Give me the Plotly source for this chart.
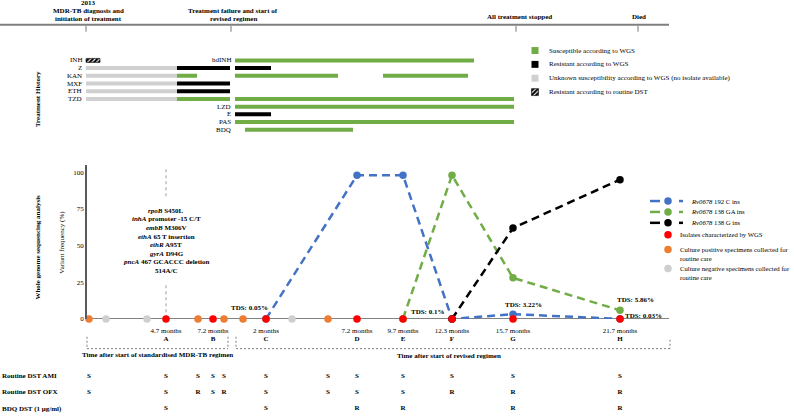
import plotly.graph_objects as go

W, H = 794, 416
FONT = "Liberation Serif"
FS = 7.0

# ---------------- data ----------------
# schematic timeline positions (same horizontal scale for all panels)
milestone_pos = [86, 231, 516, 638]
milestone_lines = [["2013", "MDR-TB diagnosis and", "initiation of treatment"],
                   ["Treatment failure and start of", "revised regimen"],
                   ["All treatment stopped"],
                   ["Died"]]

# treatment history bars: row index, start, end, status
row_left_labels = ["INH", "Z", "KAN", "MXF", "ETH", "TZD"]
row_right_labels = {0: "hdINH", 6: "LZD", 7: "E", 8: "PAS", 9: "BDQ"}
bar_row = [0, 0, 1, 1, 1, 2, 2, 2, 2, 3, 3, 4, 4, 5, 5, 5, 6, 7, 8, 9]
bar_start = [86, 235, 86, 177, 235, 86, 177, 235, 383, 86, 177, 86, 177, 86, 177, 235, 235, 235, 235, 245]
bar_end = [100, 474, 177, 230, 271, 177, 197, 338, 468, 177, 230, 177, 230, 177, 230, 514, 514, 271, 514, 353]
bar_status = ["H", "S", "U", "R", "R", "U", "S", "S", "S", "U", "R", "U", "R", "U", "S", "S", "S", "R", "S", "S"]

legend1_status = ["S", "R", "U", "H"]
legend1_text = ["Susceptible according to WGS", "Resistant according to WGS",
                "Unknown susceptibility according to WGS (no isolate available)",
                "Resistant according to routine DST"]

# specimens
sample_pos = [89, 106, 147, 166, 198, 213, 224, 243, 266, 292, 328, 357, 403, 452, 513, 620]
sample_type = ["pos", "neg", "neg", "wgs", "pos", "wgs", "pos", "pos", "wgs", "neg", "pos",
               "wgs", "wgs", "wgs", "wgs", "wgs"]

isolate_letter = ["A", "B", "C", "D", "E", "F", "G", "H"]
isolate_pos = [166, 213, 266, 357, 403, 452, 513, 620]
isolate_month = ["4.7 months", "7.2 months", "2 months", "7.2 months", "9.7 months",
                 "12.3 months", "15.7 months", "21.7 months"]

# variant frequencies (%) at isolates
blue_iso = ["C", "D", "E", "F", "G", "H"]
blue_val = [0.05, 98, 98, 0, 3.22, 0.03]
green_iso = ["E", "F", "G", "H"]
green_val = [0.1, 98, 28, 5.86]
black_iso = ["F", "G", "H"]
black_val = [0, 62, 95]

series_names = ["<i>Rv0678</i> 192 C ins", "<i>Rv0678</i> 138 GA ins", "<i>Rv0678</i> 138 G ins"]
series_colors = ["#4472C4", "#70AD47", "#000000"]

tds_text = ["TDS: 0.05%", "TDS: 0.1%", "TDS: 3.22%", "TDS: 5.86%", "TDS: 0.03%"]

mutations = ["<i>rpoB</i> S450L", "<i>inhA</i> promoter -15 C/T", "<i>embB</i> M306V",
             "<i>ethA</i> 65 T insertion", "<i>ethR</i> A95T", "<i>gyrA</i> D94G",
             "<i>pncA</i> 467 GCACCC deletion", "514A/C"]

dst_pos = [89, 166, 198, 213, 224, 266, 328, 357, 403, 452, 513, 620]
dst_rows = ["Routine DST AMI", "Routine DST OFX", "BDQ DST (1 μg/ml)"]
dst_ami = ["S", "S", "S", "S", "S", "S", "S", "S", "S", "S", "S", "S"]
dst_ofx = ["S", "S", "R", "S", "R", "S", "S", "S", "S", "R", "R", "R"]
dst_bdq = ["", "S", "", "", "", "S", "", "R", "R", "", "R", "R"]

# ---------------- layout helpers ----------------
def py(px):
    return 1 - px / H

ROW0, ROWH = 61, 7.78
Y0PX, PXPER = 322, 1.48   # variant-frequency axis: 0 at 322px, 1.48px per %
MS = 7.5

status_color = {"S": "#70AD47", "R": "#000000", "U": "#D0D0D0", "H": "#000000"}
type_color = {"pos": "#ED7D31", "neg": "#CFCFCF", "wgs": "#FF0000"}
hatch_marker = dict(color="black", line=dict(width=0.6, color="black"),
                    pattern=dict(shape="/", fgcolor="white", bgcolor="black", size=3.2, solidity=0.35,
                                 fillmode="replace"))

fig = go.Figure()

# treatment bars
for st in ["U", "S", "R", "H"]:
    idx = [i for i, s in enumerate(bar_status) if s == st]
    mk = hatch_marker if st == "H" else dict(color=status_color[st], line=dict(width=0))
    fig.add_trace(go.Bar(orientation="h", y=[bar_row[i] for i in idx],
                         base=[bar_start[i] for i in idx],
                         x=[bar_end[i] - bar_start[i] for i in idx],
                         width=0.52, marker=mk, xaxis="x", yaxis="y2",
                         hoverinfo="skip", showlegend=False))

# legend 1 swatches
for k, st in enumerate(legend1_status):
    mk = hatch_marker if st == "H" else dict(color=status_color[st], line=dict(width=0))
    fig.add_trace(go.Bar(orientation="h", y=[51 + 14 * k], base=[531.5], x=[7], width=7,
                         marker=mk, xaxis="x", yaxis="y4", hoverinfo="skip", showlegend=False))

# variant frequency lines
iso_x = dict(zip(isolate_letter, isolate_pos))
for iso, val, col in zip([blue_iso, green_iso, black_iso], [blue_val, green_val, black_val], series_colors):
    fig.add_trace(go.Scatter(x=[iso_x[i] for i in iso], y=val, mode="lines+markers",
                             line=dict(color=col, width=2.5, dash="8px,5px"),
                             marker=dict(color=col, size=MS), cliponaxis=False,
                             xaxis="x", yaxis="y", hoverinfo="skip", showlegend=False))

# specimens on the axis
for t in ["neg", "pos", "wgs"]:
    xs = [p for p, s in zip(sample_pos, sample_type) if s == t]
    fig.add_trace(go.Scatter(x=xs, y=[0] * len(xs), mode="markers",
                             marker=dict(color=type_color[t], size=MS), cliponaxis=False,
                             xaxis="x", yaxis="y", hoverinfo="skip", showlegend=False))

# legend 2 samples
leg2_y = [203, 214, 225]
for k, col in enumerate(series_colors):
    yy = leg2_y[k]
    fig.add_trace(go.Scatter(x=[650, 660, None, 679, 683], y=[yy, yy, None, yy, yy], mode="lines",
                             line=dict(color=col, width=2.5), cliponaxis=False,
                             xaxis="x", yaxis="y4", hoverinfo="skip", showlegend=False))
    fig.add_trace(go.Scatter(x=[668], y=[yy], mode="markers",
                             marker=dict(color=col, size=MS), cliponaxis=False,
                             xaxis="x", yaxis="y4", hoverinfo="skip", showlegend=False))
for t, yy in zip(["wgs", "pos", "neg"], [237, 252, 271]):
    fig.add_trace(go.Scatter(x=[668], y=[yy], mode="markers",
                             marker=dict(color=type_color[t], size=MS), cliponaxis=False,
                             xaxis="x", yaxis="y4", hoverinfo="skip", showlegend=False))

# month / letter labels
tf = dict(family=FONT, size=FS, color="black")
fig.add_trace(go.Scatter(x=isolate_pos, y=[334.5] * len(isolate_pos), mode="text", text=isolate_month,
                         textfont=tf, cliponaxis=False, xaxis="x", yaxis="y4", hoverinfo="skip", showlegend=False))
fig.add_trace(go.Scatter(x=isolate_pos, y=[342.5] * len(isolate_pos), mode="text",
                         text=["<b>%s</b>" % l for l in isolate_letter],
                         textfont=tf, cliponaxis=False, xaxis="x", yaxis="y4", hoverinfo="skip", showlegend=False))
# DST rows
dst_y = [379.5, 396, 412.5]
for vals, yy in zip([dst_ami, dst_ofx, dst_bdq], dst_y):
    fig.add_trace(go.Scatter(x=dst_pos, y=[yy] * len(dst_pos), mode="text",
                             text=["<b>%s</b>" % v if v else "" for v in vals],
                             textfont=tf, cliponaxis=False, xaxis="x", yaxis="y4",
                             hoverinfo="skip", showlegend=False))

# ---------------- annotations ----------------
ann = []
def A(text, x, ypx, xanchor="center", bold=False, size=FS, angle=0, xref="x"):
    ann.append(dict(text=("<b>%s</b>" % text) if bold else text, x=x, y=py(ypx), xref=xref, yref="paper",
                    xanchor=xanchor, yanchor="middle", showarrow=False, textangle=angle,
                    font=dict(family=FONT, size=size, color="black")))

# milestone headers
A(milestone_lines[0][0], 88, 3.5, bold=True)
A(milestone_lines[0][1], 88, 11.5, bold=True)
A(milestone_lines[0][2], 88, 19.5, bold=True)
A(milestone_lines[1][0], 233, 11.5, bold=True)
A(milestone_lines[1][1], 233, 19.5, bold=True)
A(milestone_lines[2][0], 519, 17.5, bold=True)
A(milestone_lines[3][0], 639, 17.5, bold=True)

# treatment labels
for r, lab in enumerate(row_left_labels):
    A(lab, 83.5, ROW0 + ROWH * r, xanchor="right")
for r, lab in row_right_labels.items():
    A(lab, 232.5, ROW0 + ROWH * r, xanchor="right")
for k, t in enumerate(legend1_text):
    A(t, 547, 51 + 14 * k, xanchor="left")

A("Treatment History", 38, 100, bold=True, angle=-90)
A("Whole genome sequencing analysis", 38, 250, bold=True, angle=-90)
A("Variant frequency (%)", 62, 245, angle=-90)

# mutation list
for k, m in enumerate(mutations):
    A(m, 166, 213 + 8.6 * k, bold=True)

# TDS labels
A(tds_text[0], 249, 311, bold=True)
A(tds_text[1], 427, 315, bold=True)
A(tds_text[2], 523, 308, bold=True)
A(tds_text[3], 635, 303, bold=True)
A(tds_text[4], 643, 319, bold=True)

# legend 2 texts
L2 = 6.7
for k, t in enumerate(series_names):
    A(t, 689, leg2_y[k], xanchor="left", size=L2)
A("Isolates characterized by WGS", 678, 237, xanchor="left", size=L2)
A("Culture positive specimens collected for", 678, 252, xanchor="left", size=L2)
A("routine care", 678, 261, xanchor="left", size=L2)
A("Culture negative specimens collected for", 678, 271, xanchor="left", size=L2)
A("routine care", 678, 280.5, xanchor="left", size=L2)

# bracket titles
A("Time after start of standardised MDR-TB regimen", 157, 358.5, bold=True)
A("Time after start of revised regimen", 449, 359, bold=True)

for lab, yy in zip(dst_rows, dst_y):
    A(lab, 0, yy, xanchor="left", bold=True, xref="paper")

# ---------------- shapes ----------------
shapes = []
def L(x0, y0, x1, y1, color, width, dash="solid", yref="paper"):
    if yref == "paper":
        y0, y1 = py(y0), py(y1)
    shapes.append(dict(type="line", xref="x", yref=yref, x0=x0, x1=x1, y0=y0, y1=y1,
                       line=dict(color=color, width=width, dash=dash), layer="below"))

L(0, 25, 669, 25, "#7F7F7F", 2)
for p in milestone_pos:
    L(p, 26, p, 32, "#A6A6A6", 1.5)

# x axis of variant panel
L(86, 0, 669, 0, "#595959", 1.5, yref="y")
# dotted line at isolate A
L(isolate_pos[0], 171, isolate_pos[0], 199, "#BFBFBF", 1.5, dash="dot")
L(isolate_pos[0], 288, isolate_pos[0], 322, "#BFBFBF", 1.5, dash="dot")
# brackets
bc, bw, bd = "#7F7F7F", 1, "2px,2px"
L(87, 340, 87, 352, bc, bw, bd)
L(87, 352, 228, 352, bc, bw, bd)
L(228, 340, 228, 352, bc, bw, bd)
L(236, 340, 236, 352, bc, bw, bd)
L(236, 352, 670, 352, bc, bw, bd)
L(670, 343, 670, 352, bc, bw, bd)

fig.update_layout(
    width=W, height=H, margin=dict(l=0, r=0, t=0, b=0),
    paper_bgcolor="white", plot_bgcolor="rgba(0,0,0,0)",
    showlegend=False, barmode="overlay",
    font=dict(family=FONT, size=FS, color="black"),
    xaxis=dict(range=[0, W], domain=[0, 1], visible=False, fixedrange=True),
    yaxis=dict(domain=[py(Y0PX), py(167)], range=[0, (Y0PX - 167) / PXPER],
               anchor="free", position=86 / W, showline=True, linecolor="#595959", linewidth=1.5,
               tickvals=[0, 25, 50, 75, 100], ticks="", showgrid=False, zeroline=False,
               tickfont=dict(family=FONT, size=FS, color="black"), fixedrange=True),
    yaxis2=dict(domain=[py(140), py(55)], range=[(140 - ROW0) / ROWH, (55 - ROW0) / ROWH],
                anchor="x", visible=False, fixedrange=True),
    yaxis4=dict(domain=[0, 1], range=[H, 0], anchor="x", visible=False, fixedrange=True),
    annotations=ann, shapes=shapes,
)

fig.write_html("out.html", config={"displayModeBar": False},
               post_script="document.body.style.margin='0px';document.body.style.overflow='hidden';")
